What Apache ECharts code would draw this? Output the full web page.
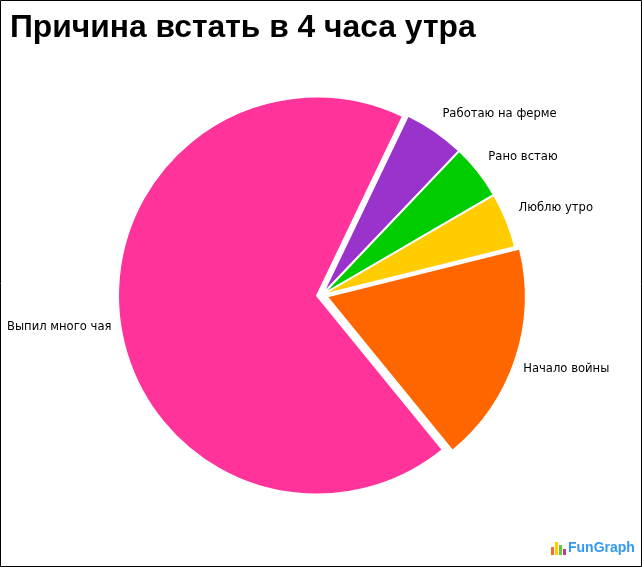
<!DOCTYPE html>
<html><head><meta charset="utf-8">
<script src="https://cdn.jsdelivr.net/npm/echarts@6/dist/echarts.min.js"></script>
<style>html,body{margin:0;padding:0;background:#fff}#c{width:642px;height:567px}</style>
</head><body><div id="c"></div>
<script>
const title = 'Причина встать в 4 часа утра';
const categories = ['Начало войны', 'Выпил много чая', 'Работаю на ферме', 'Рано встаю', 'Люблю утро'];
const values = [18, 68, 5, 4.5, 4.5];
const colors = ['#ff6600', '#ff3399', '#9933cc', '#00cc00', '#ffcc00'];
const exploded = [true, true, false, false, false];

const CX = 322, CY = 295, R = 199, START = 14, LABEL_R = 212, OFFSET = 5;
const total = values.reduce((a, b) => a + b, 0);
const midAngles = [];
{
  let a = START;
  values.forEach(v => {
    const span = v / total * 360;
    midAngles.push((a - span / 2) * Math.PI / 180);
    a -= span;
  });
}

// one layer per exploded slice, one layer for the rest
const layers = [];
exploded.forEach((e, i) => { if (e) layers.push([i]); });
layers.push(exploded.map((e, i) => e ? -1 : i).filter(i => i >= 0));

function makeSeries(members) {
  let dx = 0, dy = 0;
  if (members.length === 1 && exploded[members[0]]) {
    const a = midAngles[members[0]];
    dx = OFFSET * Math.cos(a);
    dy = -OFFSET * Math.sin(a);
  }
  return {
    type: 'pie',
    center: [CX + dx, CY + dy],
    radius: R,
    startAngle: START,
    clockwise: true,
    avoidLabelOverlap: false,
    silent: true,
    label: {show: true, position: 'outside', fontFamily: 'DejaVu Sans', fontSize: 11.6, lineHeight: 14, color: '#000', formatter: '{b}'},
    labelLine: {show: false, length: 12, length2: 0},
    labelLayout: function (p) {
      const a = midAngles[p.dataIndex];
      const c = Math.cos(a), s = Math.sin(a);
      return {
        x: CX + LABEL_R * c,
        y: CY - LABEL_R * s,
        align: c >= 0 ? 'left' : 'right',
        verticalAlign: s >= 0 ? 'bottom' : 'top'
      };
    },
    emphasis: {disabled: true},
    data: categories.map((n, i) => {
      const on = members.includes(i);
      return {
        name: n, value: values[i],
        label: {show: on},
        itemStyle: on ? {color: colors[i], borderColor: '#fff', borderWidth: 2} : {color: 'rgba(0,0,0,0)', borderWidth: 0}
      };
    })
  };
}

const chart = echarts.init(document.getElementById('c'), null, {renderer: 'canvas'});
chart.setOption({
  animation: false,
  title: {text: title, left: 10, top: 12, padding: 0, textStyle: {fontFamily: 'Liberation Sans', fontWeight: 'bold', fontSize: 31.8, color: '#000'}},
  graphic: [
    {type: 'rect', shape: {x: 0.5, y: 0.5, width: 641, height: 566}, style: {fill: 'none', stroke: '#000', lineWidth: 1}, silent: true},
    {type: 'rect', shape: {x: 551, y: 547, width: 3, height: 8}, style: {fill: '#ff6633'}},
    {type: 'rect', shape: {x: 555, y: 542, width: 3, height: 13}, style: {fill: '#ffcc00'}},
    {type: 'rect', shape: {x: 559, y: 545, width: 3, height: 10}, style: {fill: '#66cc33'}},
    {type: 'rect', shape: {x: 563, y: 549, width: 3, height: 6}, style: {fill: '#cc3399'}},
    {type: 'text', left: 568, top: 541, style: {text: 'FunGraph', fontFamily: 'Liberation Sans', fontWeight: 'bold', fontSize: 14, fill: '#3399ee'}}
  ],
  series: layers.map(makeSeries)
});
</script></body></html>
